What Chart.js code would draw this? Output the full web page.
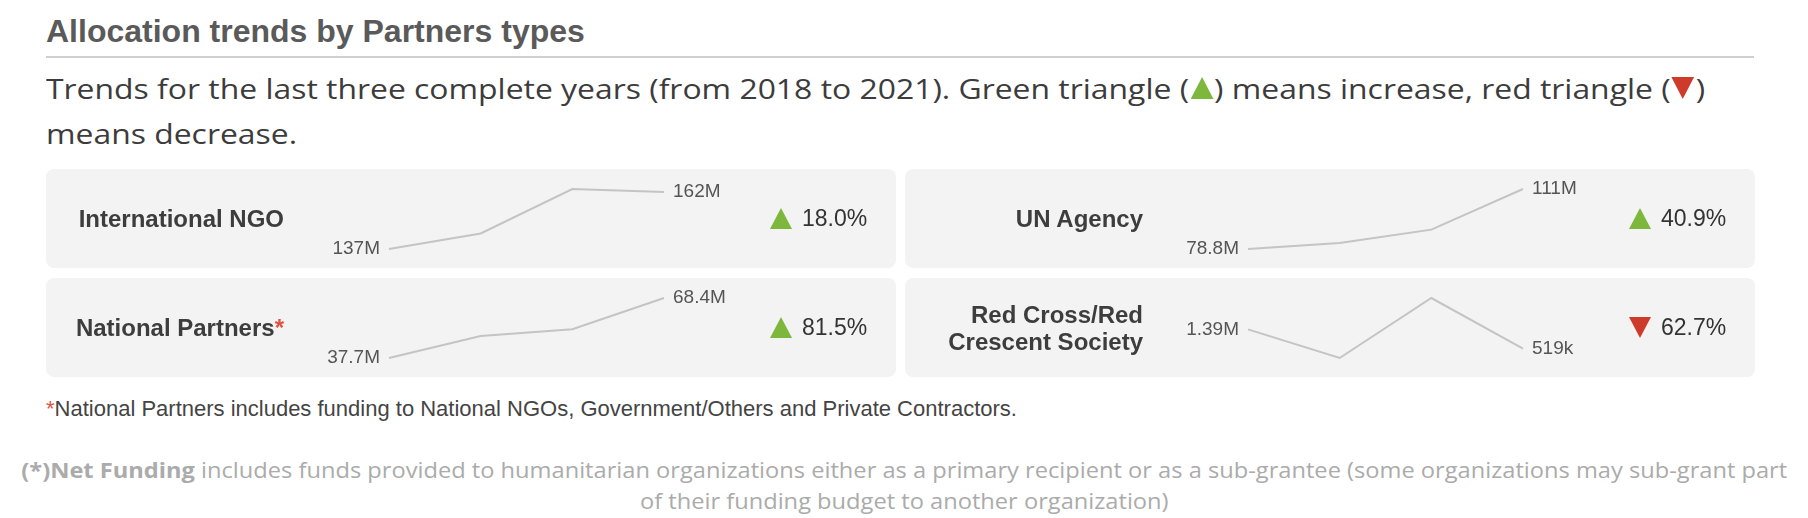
<!DOCTYPE html>
<html>
<head>
<meta charset="utf-8">
<script src="https://cdn.jsdelivr.net/npm/chart.js"></script>
<style>
body { margin:0; width:1808px; height:518px; background:#fff; position:relative; overflow:hidden; font-family:"Liberation Sans", Arial, sans-serif; }
#title { position:absolute; left:46px; top:13px; font-size:32px; font-weight:bold; color:#5a5a5a; white-space:nowrap; }
#rule { position:absolute; left:46px; top:56px; width:1708px; height:2px; background:#cfcfcf; }
#sub { position:absolute; left:46px; top:66px; font-family:"Open Sans", sans-serif; font-size:28px; line-height:45px; color:#3c3c3c; white-space:nowrap; transform:scaleX(1.139); transform-origin:0 0; }
.itri { display:inline-block; width:0; height:0; border-left:10px solid transparent; border-right:10px solid transparent; margin:0 1px; }
.itri.up { border-bottom:22px solid #7db73c; }
.itri.down { border-top:22px solid #cf3b2a; }
.card { position:absolute; width:850px; height:99px; background:#f3f3f3; border-radius:8px; }
.card canvas { position:absolute; left:0; top:0; }
.name { position:absolute; left:10px; width:228px; top:0; height:99px; display:flex; align-items:center; justify-content:flex-end; text-align:right; font-weight:bold; font-size:24px; line-height:27px; color:#3d3d3d; }
.star { color:#e0523f; }
.pct { position:absolute; left:724px; top:0; height:99px; display:flex; align-items:center; font-size:23px; color:#333; }
.tri { width:0; height:0; border-left:11px solid transparent; border-right:11px solid transparent; margin-right:10px; }
.tri.up { border-bottom:21px solid #7db73c; }
.tri.down { border-top:21px solid #cf3b2a; }
#note { position:absolute; left:46px; top:396px; font-size:22px; color:#444; white-space:nowrap; }
#net { position:absolute; left:0; width:1808px; top:455px; text-align:center; font-family:"Open Sans", sans-serif; font-size:21px; line-height:31px; color:#ababab; transform:scaleX(1.126); transform-origin:902px 0; }
</style>
</head>
<body>
<div id="title">Allocation trends by Partners types</div>
<div id="rule"></div>
<div id="sub">Trends for the last three complete years (from 2018 to 2021). Green triangle (<span class="itri up"></span>) means increase, red triangle (<span class="itri down"></span>)<br>means decrease.</div>
<div id="cards"></div>
<div id="note"><span class="star">*</span>National Partners includes funding to National NGOs, Government/Others and Private Contractors.</div>
<div id="net"><b>(*)Net Funding</b> includes funds provided to humanitarian organizations either as a primary recipient or as a sub-grantee (some organizations may sub-grant part<br>of their funding budget to another organization)</div>
<script>
// allocations per year, in millions (US$)
var years = ['2018', '2019', '2020', '2021'];
var partnerTypes = ['International NGO', 'UN Agency', 'National Partners', 'Red Cross/Red Crescent Society'];
var intlNgo = [137, 143.8, 163.3, 162];
var unAgency = [78.8, 82.0, 89.2, 111];
var nationalPartners = [37.7, 49.0, 52.4, 68.4];
var redCross = [1.39, 0.1, 2.8, 0.519];
var changes = ['18.0%', '40.9%', '81.5%', '62.7%'];
var directions = ['up', 'up', 'up', 'down'];

var series = [intlNgo, unAgency, nationalPartners, redCross];
var cardPos = [[46, 169], [905, 169], [46, 278], [905, 278]];

function fmt(v) {
	if (v >= 1) return Number(v.toPrecision(3)) + 'M';
	return Number((v * 1000).toPrecision(3)) + 'k';
}

var endLabels = {
	id: 'endLabels',
	afterDatasetsDraw: function(chart) {
		var pts = chart.getDatasetMeta(0).data;
		var data = chart.data.datasets[0].data;
		var ctx = chart.ctx;
		ctx.save();
		ctx.font = '19px "Liberation Sans", Arial, sans-serif';
		ctx.fillStyle = '#555';
		ctx.textBaseline = 'middle';
		ctx.textAlign = 'right';
		ctx.fillText(fmt(data[0]), pts[0].x - 9, pts[0].y);
		ctx.textAlign = 'left';
		ctx.fillText(fmt(data[data.length - 1]), pts[pts.length - 1].x + 9, pts[pts.length - 1].y);
		ctx.restore();
	}
};

partnerTypes.forEach(function(name, i) {
	var card = document.createElement('div');
	card.className = 'card';
	card.style.left = cardPos[i][0] + 'px';
	card.style.top = cardPos[i][1] + 'px';
	var label = name;
	if (name == 'National Partners') label += '<span class="star">*</span>';
	card.innerHTML =
		'<canvas width="850" height="99"></canvas>' +
		'<div class="name"><span>' + label + '</span></div>' +
		'<div class="pct"><div class="tri ' + directions[i] + '"></div>' + changes[i] + '</div>';
	document.getElementById('cards').appendChild(card);

	var data = series[i];
	new Chart(card.querySelector('canvas'), {
		type: 'line',
		data: {
			labels: years,
			datasets: [{
				data: data,
				borderColor: '#c4c4c4',
				borderWidth: 2,
				pointRadius: 0,
				tension: 0,
				fill: false,
				clip: false
			}]
		},
		options: {
			responsive: false,
			animation: false,
			events: [],
			layout: { padding: { left: 343, right: 232, top: 20, bottom: 19 } },
			plugins: { legend: { display: false }, tooltip: { enabled: false } },
			scales: {
				x: { display: false, offset: false },
				y: { display: false, min: Math.min.apply(null, data), max: Math.max.apply(null, data) }
			}
		},
		plugins: [endLabels]
	});
});
</script>
</body>
</html>
